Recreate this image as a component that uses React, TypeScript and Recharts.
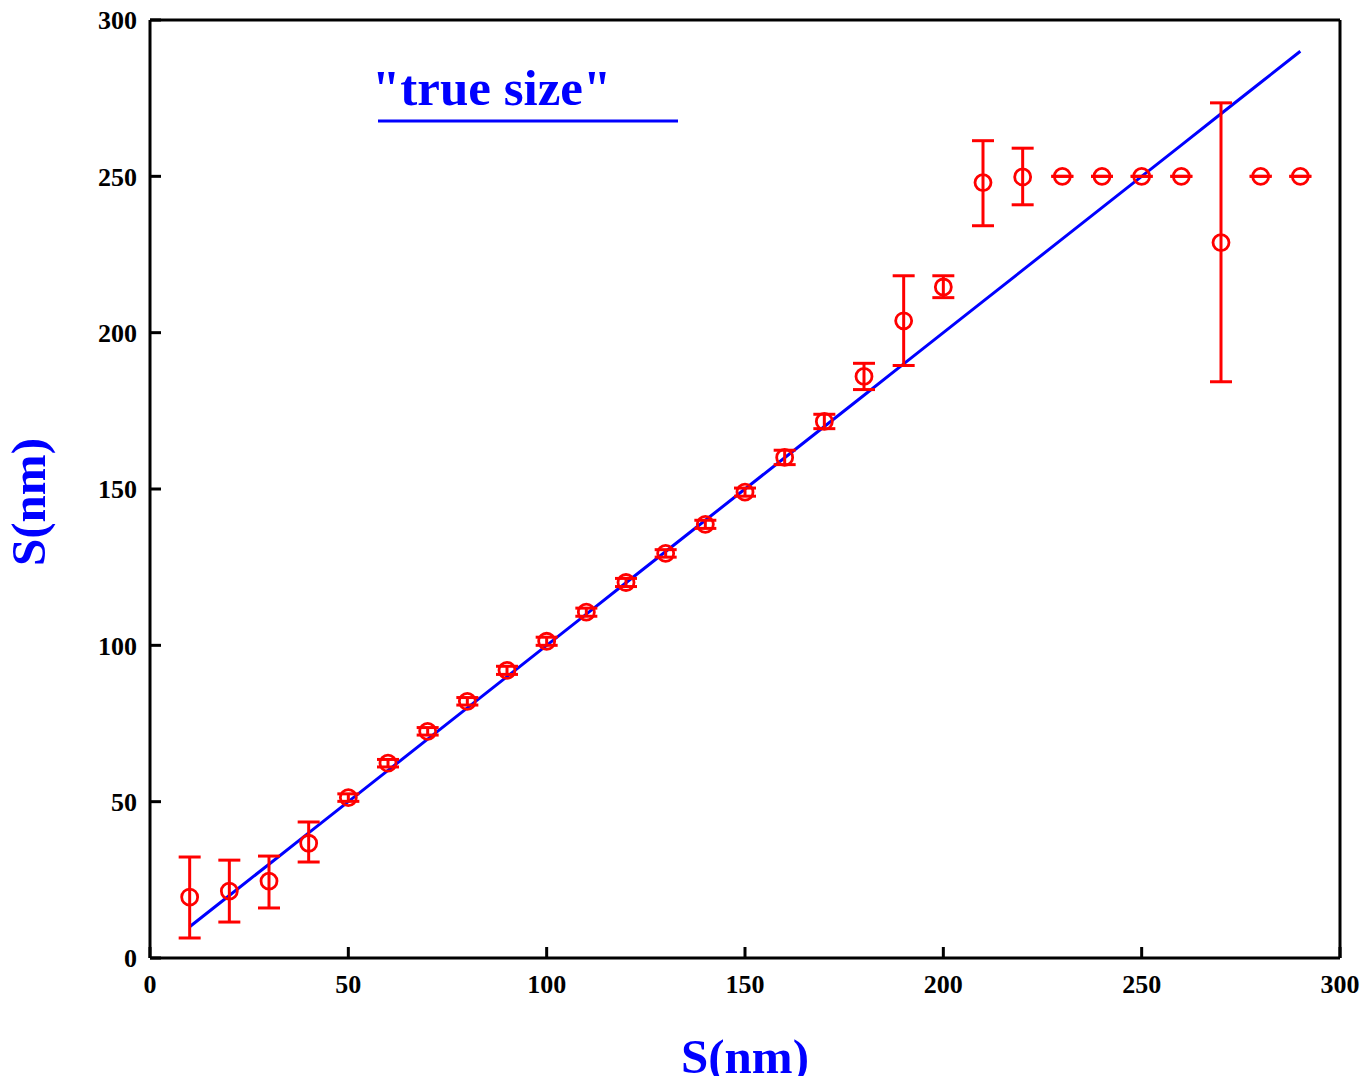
import React from 'react';
import { ComposedChart, Scatter, Line, XAxis, YAxis, ErrorBar, Legend } from 'recharts';

const sizes = [10, 20, 30, 40, 50, 60, 70, 80, 90, 100, 110, 120, 130, 140, 150, 160, 170, 180, 190, 200, 210, 220, 230, 240, 250, 260, 270, 280, 290];
const measured = [19.5, 21.4, 24.6, 36.7, 51.3, 62.3, 72.5, 82.1, 92.0, 101.3, 110.6, 120.1, 129.4, 138.7, 149.0, 160.1, 171.6, 186.0, 203.8, 214.6, 248.0, 249.8, 250, 250, 250, 250, 228.8, 250, 250];
const errLow = [13.1, 9.9, 8.6, 6.0, 1.2, 1.2, 1.2, 1.2, 1.3, 1.3, 1.3, 1.3, 1.2, 1.3, 1.3, 2.3, 2.3, 4.2, 14.3, 3.4, 13.8, 8.9, 0, 0, 0, 0, 44.5, 0, 0];
const errHigh = [12.8, 9.9, 8.0, 6.8, 1.2, 1.2, 1.2, 1.2, 1.3, 1.3, 1.3, 1.3, 1.2, 1.3, 1.3, 2.3, 2.3, 4.2, 14.4, 3.6, 13.4, 9.2, 0, 0, 0, 0, 44.7, 0, 0];
const trueSize = [10, 20, 30, 40, 50, 60, 70, 80, 90, 100, 110, 120, 130, 140, 150, 160, 170, 180, 190, 200, 210, 220, 230, 240, 250, 260, 270, 280, 290];
const axisTicks = [0, 50, 100, 150, 200, 250, 300];
const xTitle = 'S(nm)';
const yTitle = 'S(nm)';
const legendLabel = '"true size"';

const points = sizes.map((x, i) => ({ x, y: measured[i], err: [errLow[i], errHigh[i]] }));
const lineData = sizes.map((x, i) => ({ x, y: trueSize[i] }));

const FONT = '"Liberation Serif", "Times New Roman", serif';
const RED = '#ff0000';
const BLUE = '#0000ff';
const TICK_LEN = 11;
const X_MARGIN = 17;
const Y_MARGIN = 13;

const labelProps = { fontFamily: FONT, fontSize: 26, fontWeight: 700, fill: '#000' };

const BottomTick = (p: any) => {
  const base = p.y - X_MARGIN;
  return (
    <g>
      <line x1={p.x} y1={base} x2={p.x} y2={base - TICK_LEN} stroke="#000" strokeWidth={3} />
      <text x={p.x} y={p.y} dy="0.71em" textAnchor="middle" {...labelProps}>{p.payload.value}</text>
    </g>
  );
};

const LeftTick = (p: any) => {
  const base = p.x + Y_MARGIN;
  return (
    <g>
      <line x1={base} y1={p.y} x2={base + TICK_LEN} y2={p.y} stroke="#000" strokeWidth={3} />
      <text x={p.x} y={p.y} dy="0.355em" textAnchor="end" {...labelProps}>{p.payload.value}</text>
    </g>
  );
};

const TopTick = (p: any) => (
  <line x1={p.x} y1={p.y} x2={p.x} y2={p.y + TICK_LEN} stroke="#000" strokeWidth={3} />
);

const RightTick = (p: any) => (
  <line x1={p.x} y1={p.y} x2={p.x - TICK_LEN} y2={p.y} stroke="#000" strokeWidth={3} />
);

const XTitle = (props: any) => {
  const vb = props.viewBox || {};
  return (
    <text x={vb.x + vb.width / 2} y={vb.y + 115} textAnchor="middle" fontFamily={FONT} fontWeight={700} fontSize={49} fill={BLUE}>
      {xTitle}
    </text>
  );
};

const YTitle = (props: any) => {
  const vb = props.viewBox || {};
  const x = vb.x + 37;
  const y = vb.y + vb.height / 2 + 13;
  return (
    <text x={x} y={y} transform={`rotate(-90, ${x}, ${y})`} textAnchor="middle" fontFamily={FONT} fontWeight={700} fontSize={49} fill={BLUE}>
      {yTitle}
    </text>
  );
};

const LegendContent = () => (
  <svg width={320} height={90} style={{ overflow: 'visible', display: 'block' }}>
    <text x={4} y={57} fontFamily={FONT} fontWeight={700} fontSize={51} fill={BLUE}>{legendLabel}</text>
    <line x1={10} y1={73} x2={310} y2={73} stroke={BLUE} strokeWidth={3} />
  </svg>
);

const Marker = (p: any) => (
  <circle cx={p.cx} cy={p.cy} r={8} fill="none" stroke={RED} strokeWidth={2.8} />
);

const lineStyle = { stroke: '#000', strokeWidth: 3 };

export default function App() {
  return (
    <div style={{ width: 1356, height: 1068 }}>
      <style>{'svg{overflow:visible}'}</style>
      <ComposedChart width={1356} height={1068} margin={{ top: 11, right: 23, bottom: 0, left: 0 }}>
        <XAxis xAxisId="x" dataKey="x" type="number" domain={[0, 300]} ticks={axisTicks} interval={0} allowDataOverflow
          orientation="bottom" height={118} tickSize={0} tickMargin={X_MARGIN} axisLine={lineStyle} tickLine={false}
          tick={<BottomTick />} label={<XTitle />} />
        <YAxis yAxisId="y" dataKey="y" type="number" domain={[0, 300]} ticks={axisTicks} interval={0} allowDataOverflow
          orientation="left" width={142} tickSize={0} tickMargin={Y_MARGIN} axisLine={lineStyle} tickLine={false}
          tick={<LeftTick />} label={<YTitle />} />
        <XAxis xAxisId="xt" type="number" domain={[0, 300]} ticks={axisTicks} interval={0} orientation="top" height={1}
          tickSize={0} tickMargin={0} axisLine={lineStyle} tickLine={false} tick={<TopTick />} />
        <YAxis yAxisId="yr" type="number" domain={[0, 300]} ticks={axisTicks} interval={0} orientation="right" width={1}
          tickSize={0} tickMargin={0} axisLine={lineStyle} tickLine={false} tick={<RightTick />} />
        <Line data={lineData} xAxisId="x" yAxisId="y" dataKey="y" type="linear" stroke={BLUE} strokeWidth={3} dot={false}
          activeDot={false} isAnimationActive={false} legendType="none" />
        <Scatter data={points} xAxisId="x" yAxisId="y" shape={<Marker />} isAnimationActive={false} legendType="none">
          <ErrorBar dataKey="err" direction="y" width={11} stroke={RED} strokeWidth={3} isAnimationActive={false} />
        </Scatter>
        <Legend layout="vertical" align="center" verticalAlign="middle" content={<LegendContent />}
          wrapperStyle={{ left: 360, top: 40, width: 320, height: 90, right: 'auto', bottom: 'auto' }} />
      </ComposedChart>
    </div>
  );
}
